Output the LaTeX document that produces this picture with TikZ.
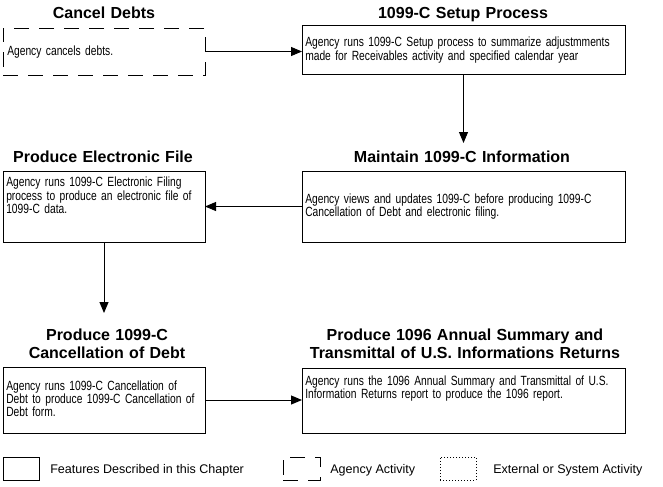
\documentclass[tikz,border=0pt]{standalone}
\usepackage{fontspec}
\setmainfont{Liberation Sans}
\newfontfamily\narrowsans[FakeStretch=0.77]{Liberation Sans}
\usetikzlibrary{arrows.meta,positioning}
\begin{document}
\begin{tikzpicture}[x=0.75pt,y=-0.75pt,
box/.style={draw,line width=0.75pt,anchor=north west,inner sep=0pt,outer sep=0pt},
agency/.style={box,dash pattern=on 11.25pt off 7.5pt},
extern/.style={box,dash pattern=on 0.75pt off 1.5pt},
lbox/.style={minimum width=202*0.75pt},
rbox/.style={minimum width=323*0.75pt},
ttl/.style={font=\bfseries\fontsize{12pt}{13.2pt}\selectfont,anchor=base,inner sep=0pt,align=center,text width=330*0.75pt},
txt/.style={font=\narrowsans\fontsize{10pt}{10pt}\selectfont,anchor=base west,inner sep=0pt,align=left,text width=#1*0.75pt},
txt/.default=320,
lgd/.style={font=\fontsize{9.4pt}{11pt}\selectfont,anchor=base west,inner sep=0pt},
arr/.style={line width=0.75pt,-{Triangle[length=8.25pt,width=6.75pt]}}]
\pgfmathsetmacro{\klx}{3}
\pgfmathsetmacro{\krx}{302}
\useasboundingbox(0,0)rectangle(663,486);
% row 1
\node[agency,lbox,minimum height=47*0.75pt](cancel)at(\klx,28){};
\node[box,rbox,minimum height=49*0.75pt](setup)at(\krx,25){};
\node[ttl](cancelttl)at(104,18.5){Cancel Debts};
\node[ttl](setupttl)at(463,18.5){1099-C Setup Process};
\node[txt=198](canceltxt)at(7,55){Agency cancels debts.};
\node[txt](setuptxt)at(305,46.7){Agency runs 1099-C Setup process to summarize adjustmments\\made for Receivables activity and specified calendar year};
% row 2
\node[box,lbox,minimum height=71*0.75pt](elec)at(\klx,171){};
\node[box,rbox,minimum height=71*0.75pt](maint)at(\krx,171){};
\node[ttl](electtl)at(103,162){Produce Electronic File};
\node[ttl](maintttl)at(462,162.5){Maintain 1099-C Information};
\node[txt=198](electxt)at(6,186.7){Agency runs 1099-C Electronic Filing\\process to produce an electronic file of\\1099-C data.};
\node[txt](mainttxt)at(305,203.3){Agency views and updates 1099-C before producing 1099-C\\Cancellation of Debt and electronic filing.};
% row 3
\node[box,lbox,minimum height=66*0.75pt](debt)at(\klx,367){};
\node[box,rbox,minimum height=65*0.75pt](annual)at(\krx,368){};
\node[ttl](debtttl)at(107,340.5){Produce 1099-C\\Cancellation of Debt};
\node[ttl](annualttl)at(465,340.5){Produce 1096 Annual Summary and\\Transmittal of U.S. Informations Returns};
\node[txt=198](debttxt)at(6,390){Agency runs 1099-C Cancellation of\\Debt to produce 1099-C Cancellation of\\Debt form.};
\node[txt](annualtxt)at(305,385){Agency runs the 1096 Annual Summary and Transmittal of U.S.\\Information Returns report to produce the 1096 report.};
% connectors
\coordinate(maintin)at(463.5,143);
\coordinate(debtin)at(104,313);
\draw[arr](cancel.east)--(cancel.east-|setup.west);
\draw[arr](setup.south)--(maintin);
\draw[arr](maint.west)--(maint.west-|elec.east);
\draw[arr](elec.south)--(debtin);
\draw[arr](debt.east)--(debt.east-|annual.west);
% legend
\node[box,minimum width=36*0.75pt,minimum height=23*0.75pt](lgdsolid)at(3,457){};
\node[agency,minimum width=37*0.75pt,minimum height=23*0.75pt](lgdagency)at(283,457){};
\node[extern,minimum width=36*0.75pt,minimum height=23*0.75pt](lgdextern)at(440,457){};
\node[lgd](lgdsolidtxt)at(50,473){Features Described in this Chapter};
\node[lgd](lgdagencytxt)at(330,473){Agency Activity};
\node[lgd](lgdexterntxt)at(493,473){External or System Activity};
\end{tikzpicture}
\end{document}
